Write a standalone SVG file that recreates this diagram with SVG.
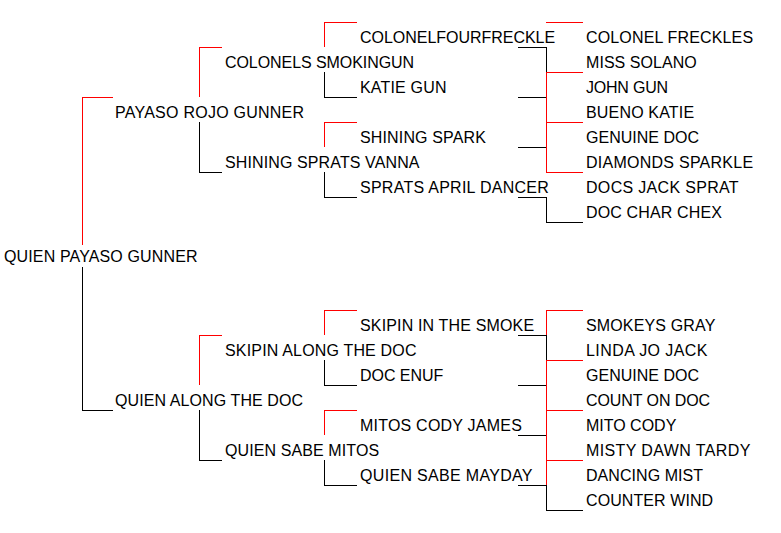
<svg xmlns="http://www.w3.org/2000/svg" width="781" height="533" viewBox="0 0 781 533">
<style>
text { font-family: "Liberation Sans", Arial, sans-serif; font-size: 16px; fill: #000; }
.r { stroke: #ff0000; stroke-width: 1; fill: none; }
.k { stroke: #000; stroke-width: 1; fill: none; }
</style>
<rect width="781" height="533" fill="#fff"/>
<g id="connectors" shape-rendering="crispEdges">
  <path class="r" d="M82.5,245 V97.5 H113"/>
  <path class="k" d="M82.5,267 V410.5 H113"/>
  <path class="r" d="M199.5,97 V47.5 H222"/>
  <path class="k" d="M199.5,122 V172.5 H222"/>
  <path class="r" d="M199.5,385 V335.5 H222"/>
  <path class="k" d="M199.5,410 V460.5 H222"/>
  <path class="r" d="M324.5,47 V22.5 H357"/>
  <path class="k" d="M324.5,72 V97.5 H357"/>
  <path class="r" d="M324.5,147 V122.5 H357"/>
  <path class="k" d="M324.5,172 V197.5 H357"/>
  <path class="r" d="M324.5,335 V310.5 H357"/>
  <path class="k" d="M324.5,360 V385.5 H357"/>
  <path class="r" d="M324.5,435 V410.5 H357"/>
  <path class="k" d="M324.5,460 V485.5 H357"/>
  <path class="k" d="M518,47.5 H546.5 V72"/>
  <path class="k" d="M518,97.5 H546.5"/>
  <path class="k" d="M518,147.5 H546.5"/>
  <path class="k" d="M518,197.5 H546.5 V222.5 H583"/>
  <path class="r" d="M546,22.5 H583"/>
  <path class="r" d="M546.5,172 V72.5 H583"/>
  <path class="r" d="M546,122.5 H583"/>
  <path class="r" d="M546,172.5 H583"/>
  <path class="k" d="M518,335.5 H546.5 V360"/>
  <path class="k" d="M518,385.5 H546.5"/>
  <path class="k" d="M518,435.5 H546.5"/>
  <path class="k" d="M518,485.5 H546.5 V510.5 H583"/>
  <path class="r" d="M546.5,335 V310.5 H583"/>
  <path class="r" d="M546.5,485 V360.5 H583"/>
  <path class="r" d="M546,410.5 H583"/>
  <path class="r" d="M546,460.5 H583"/>
</g>
<g id="n-quien-payaso-gunner"><text x="4" y="262" textLength="193.5" lengthAdjust="spacing">QUIEN PAYASO GUNNER</text></g>
<g id="n-payaso-rojo-gunner"><text x="115" y="118" textLength="189.1" lengthAdjust="spacing">PAYASO ROJO GUNNER</text></g>
<g id="n-quien-along-the-doc"><text x="115" y="406" textLength="188.1" lengthAdjust="spacing">QUIEN ALONG THE DOC</text></g>
<g id="n-colonels-smokingun"><text x="225" y="68" textLength="189.1" lengthAdjust="spacing">COLONELS SMOKINGUN</text></g>
<g id="n-shining-sprats-vanna"><text x="225" y="168" textLength="194.5" lengthAdjust="spacing">SHINING SPRATS VANNA</text></g>
<g id="n-skipin-along-the-doc"><text x="225" y="356" textLength="191.5" lengthAdjust="spacing">SKIPIN ALONG THE DOC</text></g>
<g id="n-quien-sabe-mitos"><text x="225" y="456" textLength="154.1" lengthAdjust="spacing">QUIEN SABE MITOS</text></g>
<g id="n-colonelfourfreckle"><text x="360" y="43" textLength="195.1" lengthAdjust="spacing">COLONELFOURFRECKLE</text></g>
<g id="n-katie-gun"><text x="360" y="93" textLength="86.5" lengthAdjust="spacing">KATIE GUN</text></g>
<g id="n-shining-spark"><text x="360" y="143" textLength="125.9" lengthAdjust="spacing">SHINING SPARK</text></g>
<g id="n-sprats-april-dancer"><text x="360" y="193" textLength="188.8" lengthAdjust="spacing">SPRATS APRIL DANCER</text></g>
<g id="n-skipin-in-the-smoke"><text x="360" y="331" textLength="174.1" lengthAdjust="spacing">SKIPIN IN THE SMOKE</text></g>
<g id="n-doc-enuf"><text x="360" y="381" textLength="83.2" lengthAdjust="spacing">DOC ENUF</text></g>
<g id="n-mitos-cody-james"><text x="360" y="431" textLength="161.8" lengthAdjust="spacing">MITOS CODY JAMES</text></g>
<g id="n-quien-sabe-mayday"><text x="360" y="481" textLength="172.5" lengthAdjust="spacing">QUIEN SABE MAYDAY</text></g>
<g id="n-colonel-freckles"><text x="586" y="43" textLength="167.1" lengthAdjust="spacing">COLONEL FRECKLES</text></g>
<g id="n-miss-solano"><text x="586" y="68" textLength="110.8" lengthAdjust="spacing">MISS SOLANO</text></g>
<g id="n-john-gun"><text x="586" y="93" textLength="82.1" lengthAdjust="spacing">JOHN GUN</text></g>
<g id="n-bueno-katie"><text x="586" y="118" textLength="108.1" lengthAdjust="spacing">BUENO KATIE</text></g>
<g id="n-genuine-doc-1"><text x="586" y="143" textLength="113.1" lengthAdjust="spacing">GENUINE DOC</text></g>
<g id="n-diamonds-sparkle"><text x="586" y="168" textLength="167.1" lengthAdjust="spacing">DIAMONDS SPARKLE</text></g>
<g id="n-docs-jack-sprat"><text x="586" y="193" textLength="152.6" lengthAdjust="spacing">DOCS JACK SPRAT</text></g>
<g id="n-doc-char-chex"><text x="586" y="218" textLength="136" lengthAdjust="spacing">DOC CHAR CHEX</text></g>
<g id="n-smokeys-gray"><text x="586" y="331" textLength="129.3" lengthAdjust="spacing">SMOKEYS GRAY</text></g>
<g id="n-linda-jo-jack"><text x="586" y="356" textLength="121.5" lengthAdjust="spacing">LINDA JO JACK</text></g>
<g id="n-genuine-doc-2"><text x="586" y="381" textLength="113.1" lengthAdjust="spacing">GENUINE DOC</text></g>
<g id="n-count-on-doc"><text x="586" y="406" textLength="124.1" lengthAdjust="spacing">COUNT ON DOC</text></g>
<g id="n-mito-cody"><text x="586" y="431" textLength="90.3" lengthAdjust="spacing">MITO CODY</text></g>
<g id="n-misty-dawn-tardy"><text x="586" y="456" textLength="164.3" lengthAdjust="spacing">MISTY DAWN TARDY</text></g>
<g id="n-dancing-mist"><text x="586" y="481" textLength="117" lengthAdjust="spacing">DANCING MIST</text></g>
<g id="n-counter-wind"><text x="586" y="506" textLength="127.1" lengthAdjust="spacing">COUNTER WIND</text></g>
</svg>
